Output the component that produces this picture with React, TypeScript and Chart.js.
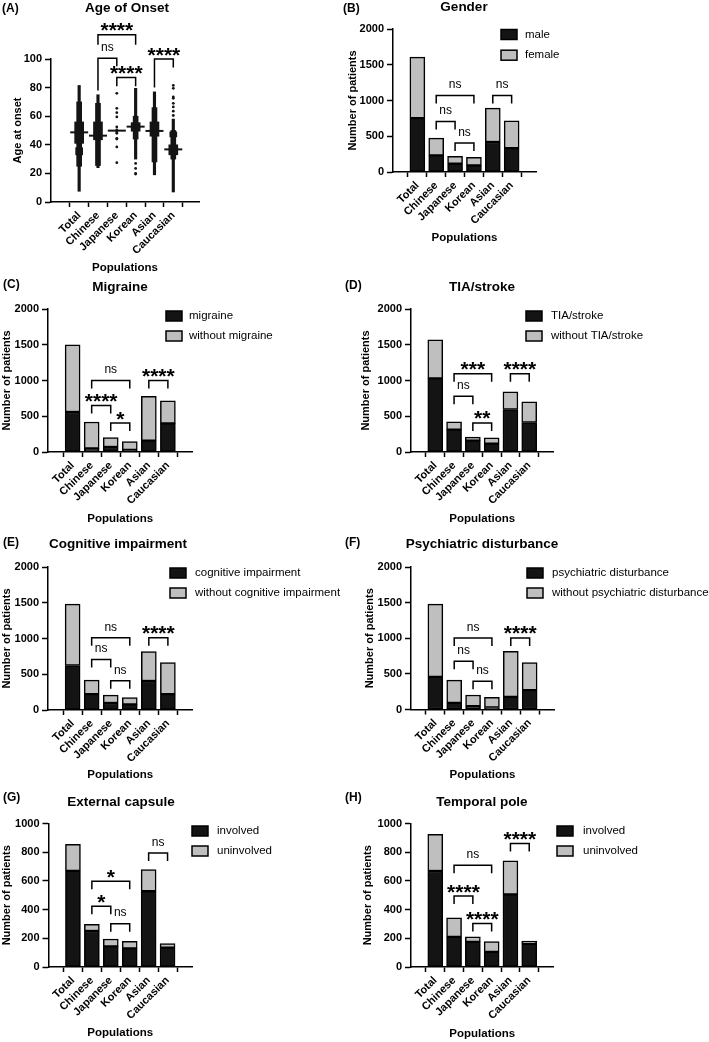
import React, { useEffect, useRef } from 'react';
import { Chart, registerables } from 'chart.js';

Chart.register(...registerables);

const FONT = '"Liberation Sans", Arial, sans-serif';
const BLACK = '#141414';
const GRAY = '#bfbfbf';

// ---------------- DATA ----------------
const CATEGORIES = ['Total', 'Chinese', 'Japanese', 'Korean', 'Asian', 'Caucasian'];

// (A) Age of onset: dot-plot columns (years)
const AGE_MEDIAN = [48.7, 46.4, 49.9, 52.7, 49.7, 36.8];
const AGE_RANGE_FULL = [[7.5, 81.5], [24, 75], null, [30, 79.5], [19, 77], [7, 58]];
const AGE_RANGE_MID = [[25, 70], [25.5, 69], null, [44, 60], [28, 66], [30, 50]];
const AGE_RANGE_DENSE = [[41, 56], [43.5, 56], null, [49.5, 55.5], [46, 56], [33, 40]];
const AGE_RANGE_DENSE2 = [[33, 38], null, null, null, null, [45.5, 49]];
const AGE_SPARSE_JAPANESE = [76, 65.5, 62.5, 59.5, 52.5, 50.5, 49, 48, 44.5, 44, 38.5, 27.5];
const AGE_SPARSE_KOREAN = [27, 23.5, 20, 19.5];
const AGE_SPARSE_CAUCASIAN = [81.5, 79.5, 73.5, 72.5, 69, 66.5, 63.5, 60.5];
const AGE_BRACKETS = [
  [1, 3, 117, '****', 110, 110],
  [1, 2, 100.5, 'ns', 78, 95],
  [2, 3, 87, '****', 81, 81],
  [4, 5, 100, '****', 80, 94],
];

// (B) Gender
const MALE = [753, 233, 116, 93, 419, 335];
const FEMALE = [854, 241, 103, 112, 474, 381];
const GENDER_BRACKETS = [[1, 3, 1070, 'ns'], [1, 2, 707, 'ns'], [2, 3, 405, 'ns'], [4, 5, 1070, 'ns']];

// (C) Migraine
const MIGRAINE = [560, 50, 70, 30, 160, 400];
const NO_MIGRAINE = [940, 370, 130, 115, 620, 315];
const MIGRAINE_BRACKETS = [[1, 3, 1000, 'ns'], [1, 2, 650, '****'], [2, 3, 405, '*'], [4, 5, 1000, '****']];

// (D) TIA/stroke
const STROKE = [1030, 314, 159, 117, 594, 412];
const NO_STROKE = [538, 107, 51, 80, 248, 290];
const STROKE_BRACKETS = [[1, 3, 1095, '***'], [1, 2, 781, 'ns'], [2, 3, 407, '**'], [4, 5, 1095, '****']];

// (E) Cognitive impairment
const COGNITIVE = [623, 223, 98, 79, 405, 223];
const NO_COGNITIVE = [857, 195, 109, 96, 412, 440];
const COGNITIVE_BRACKETS = [[1, 3, 1009, 'ns'], [1, 2, 707, 'ns'], [2, 3, 409, 'ns'], [4, 5, 1009, '****']];

// (F) Psychiatric disturbance
const PSYCH = [458, 93, 47, 28, 177, 271];
const NO_PSYCH = [1022, 320, 156, 142, 638, 389];
const PSYCH_BRACKETS = [[1, 3, 1004, 'ns'], [1, 2, 677, 'ns'], [2, 3, 397, 'ns'], [4, 5, 1004, '****']];

// (G) External capsule
const EC_INVOLVED = [670, 251, 144, 130, 528, 135];
const EC_UNINVOLVED = [185, 47, 51, 49, 151, 28];
const EC_BRACKETS = [[1, 3, 598, '*'], [1, 2, 423, '*'], [2, 3, 302, 'ns'], [4, 5, 795, 'ns']];

// (H) Temporal pole
const TP_INVOLVED = [669, 210, 175, 105, 506, 161];
const TP_UNINVOLVED = [256, 133, 35, 72, 233, 19];
const TP_BRACKETS = [[1, 3, 709, 'ns'], [1, 2, 494, '****'], [2, 3, 303, '****'], [4, 5, 860, '****']];

// ---------------- LAYOUT (page coordinates) ----------------
const Y_TITLE_SIZE = 11;
const X_TITLE_SIZE = 11.5;

type Panel = any;

const PANELS: Panel[] = [
  {
    key: 'A', kind: 'dot', label: '(A)', title: 'Age of Onset', yTitle: 'Age at onset',
    box: { x: 0, y: 0, w: 354, h: 285 }, plot: { l: 51, t: 59, r: 199, b: 202 },
    xMin: -0.84, xMax: 5.71, yMax: 100, yStep: 20,
    yTitleX: 18, xTitleY: 268, titlePos: [127, 8], labelPos: [2, 9],
    brackets: AGE_BRACKETS,
  },
  {
    key: 'B', kind: 'bar', label: '(B)', title: 'Gender', yTitle: 'Number of patients',
    box: { x: 340, y: 0, w: 369, h: 260 }, plot: { l: 393, t: 29, r: 536, b: 172 },
    xMin: -0.66, xMax: 5.66, yMax: 2000, yStep: 500,
    yTitleX: 353, xTitleY: 238, titlePos: [464, 7], labelPos: [343, 9],
    lower: MALE, upper: FEMALE, names: ['male', 'female'],
    legend: { bx: 501, tx: 525, y0: 34.5, dy: 20.7 }, brackets: GENDER_BRACKETS,
  },
  {
    key: 'C', kind: 'bar', label: '(C)', title: 'Migraine', yTitle: 'Number of patients',
    box: { x: 0, y: 260, w: 354, h: 270 }, plot: { l: 48, t: 309, r: 192.5, b: 452 },
    xMin: -0.66, xMax: 5.66, yMax: 2000, yStep: 500,
    yTitleX: 7, xTitleY: 519, titlePos: [120, 287], labelPos: [3, 285],
    lower: MIGRAINE, upper: NO_MIGRAINE, names: ['migraine', 'without migraine'],
    legend: { bx: 166, tx: 189, y0: 316, dy: 20 }, brackets: MIGRAINE_BRACKETS,
  },
  {
    key: 'D', kind: 'bar', label: '(D)', title: 'TIA/stroke', yTitle: 'Number of patients',
    box: { x: 340, y: 260, w: 369, h: 270 }, plot: { l: 411, t: 309, r: 553.5, b: 452 },
    xMin: -0.66, xMax: 5.66, yMax: 2000, yStep: 500,
    yTitleX: 366, xTitleY: 519, titlePos: [482, 287], labelPos: [345, 286],
    lower: STROKE, upper: NO_STROKE, names: ['TIA/stroke', 'without TIA/stroke'],
    legend: { bx: 526, tx: 551, y0: 316, dy: 20 }, brackets: STROKE_BRACKETS,
  },
  {
    key: 'E', kind: 'bar', label: '(E)', title: 'Cognitive impairment', yTitle: 'Number of patients',
    box: { x: 0, y: 520, w: 354, h: 262 }, plot: { l: 48, t: 567, r: 192.5, b: 710 },
    xMin: -0.66, xMax: 5.66, yMax: 2000, yStep: 500,
    yTitleX: 7, xTitleY: 775, titlePos: [118, 544], labelPos: [3, 543],
    lower: COGNITIVE, upper: NO_COGNITIVE, names: ['cognitive impairment', 'without cognitive impairment'],
    legend: { bx: 170, tx: 195, y0: 573, dy: 20 }, brackets: COGNITIVE_BRACKETS,
  },
  {
    key: 'F', kind: 'bar', label: '(F)', title: 'Psychiatric disturbance', yTitle: 'Number of patients',
    box: { x: 340, y: 520, w: 369, h: 262 }, plot: { l: 411, t: 567, r: 554, b: 709.5 },
    xMin: -0.66, xMax: 5.66, yMax: 2000, yStep: 500,
    yTitleX: 370, xTitleY: 775, titlePos: [482, 544], labelPos: [345, 543],
    lower: PSYCH, upper: NO_PSYCH, names: ['psychiatric disturbance', 'without psychiatric disturbance'],
    legend: { bx: 527, tx: 552, y0: 573, dy: 20 }, brackets: PSYCH_BRACKETS,
  },
  {
    key: 'G', kind: 'bar', label: '(G)', title: 'External capsule', yTitle: 'Number of patients',
    box: { x: 0, y: 780, w: 354, h: 262 }, plot: { l: 48.5, t: 823.5, r: 192, b: 967 },
    xMin: -0.66, xMax: 5.66, yMax: 1000, yStep: 200,
    yTitleX: 7, xTitleY: 1033, titlePos: [121, 802], labelPos: [3, 798],
    lower: EC_INVOLVED, upper: EC_UNINVOLVED, names: ['involved', 'uninvolved'],
    legend: { bx: 192, tx: 217, y0: 831, dy: 20 }, brackets: EC_BRACKETS,
  },
  {
    key: 'H', kind: 'bar', label: '(H)', title: 'Temporal pole', yTitle: 'Number of patients',
    box: { x: 340, y: 780, w: 369, h: 262 }, plot: { l: 411, t: 823.5, r: 553.5, b: 967 },
    xMin: -0.66, xMax: 5.66, yMax: 1000, yStep: 200,
    yTitleX: 368, xTitleY: 1034, titlePos: [482, 802], labelPos: [345, 798],
    lower: TP_INVOLVED, upper: TP_UNINVOLVED, names: ['involved', 'uninvolved'],
    legend: { bx: 557, tx: 583, y0: 831, dy: 20 }, brackets: TP_BRACKETS,
  },
];

// ---------------- CHART BUILDING ----------------
function decorPlugin(p: Panel) {
  return {
    id: 'decor' + p.key,
    afterDraw(chart: any) {
      const ctx = chart.ctx;
      const ox = p.box.x;
      const oy = p.box.y;
      ctx.save();
      ctx.fillStyle = '#000';
      ctx.strokeStyle = '#000';
      // panel label
      ctx.font = `bold 12px ${FONT}`;
      ctx.textAlign = 'left';
      ctx.textBaseline = 'middle';
      ctx.fillText(p.label, p.labelPos[0] - ox, p.labelPos[1] - oy);
      // title
      ctx.font = `bold 13.5px ${FONT}`;
      ctx.textAlign = 'center';
      ctx.fillText(p.title, p.titlePos[0] - ox, p.titlePos[1] - oy);
      // legend
      if (p.legend) {
        const ds = chart.data.datasets;
        ctx.font = `11.5px ${FONT}`;
        ctx.textAlign = 'left';
        ds.forEach((d: any, i: number) => {
          const cy = p.legend.y0 - oy + i * p.legend.dy;
          const bx = p.legend.bx - ox;
          ctx.fillStyle = d.backgroundColor;
          ctx.fillRect(bx, cy - 5, 16, 10);
          ctx.lineWidth = 1.5;
          ctx.strokeStyle = '#000';
          ctx.strokeRect(bx, cy - 5, 16, 10);
          ctx.fillStyle = '#000';
          ctx.fillText(d.label, p.legend.tx - ox, cy);
        });
      }
      // significance brackets
      const xs = chart.scales.x;
      const ys = chart.scales.y;
      ctx.lineWidth = 1.5;
      ctx.lineJoin = 'miter';
      ctx.lineCap = 'butt';
      for (const br of p.brackets) {
        const [a, b, level, text, legA, legB] = br;
        const x1 = xs.getPixelForValue(a);
        const x2 = xs.getPixelForValue(b);
        const y = ys.getPixelForValue(level);
        const y1 = legA != null ? ys.getPixelForValue(legA) : y + 8;
        const y2 = legB != null ? ys.getPixelForValue(legB) : y + 8;
        ctx.beginPath();
        ctx.moveTo(x1, y1);
        ctx.lineTo(x1, y);
        ctx.lineTo(x2, y);
        ctx.lineTo(x2, y2);
        ctx.stroke();
        const cx = (x1 + x2) / 2;
        ctx.textAlign = 'center';
        if (text === 'ns') {
          ctx.font = `12px ${FONT}`;
          ctx.textBaseline = 'middle';
          ctx.fillText(text, cx, y - 10.5);
        } else {
          ctx.font = `bold 21px ${FONT}`;
          ctx.textBaseline = 'alphabetic';
          ctx.fillText(text, cx, y - 9.5 + 12);
        }
      }
      ctx.restore();
    },
  };
}

function buildOptions(p: Panel) {
  const ox = p.box.x;
  const oy = p.box.y;
  const L = p.plot.l - ox;
  const T = p.plot.t - oy;
  const R = p.plot.r - ox;
  const B = p.plot.b - oy;
  const yTitleLeft = p.yTitleX - ox - (Y_TITLE_SIZE * 1.2) / 2;
  const yW = L - yTitleLeft;
  const xH = p.xTitleY - oy - B + (X_TITLE_SIZE * 1.2) / 2;
  const padding = { left: yTitleLeft, top: T, right: p.box.w - R, bottom: p.box.h - B - xH };
  const stacked = p.kind === 'bar';
  return {
    animation: false,
    responsive: false,
    devicePixelRatio: 1,
    events: [],
    layout: { padding },
    plugins: { legend: { display: false }, tooltip: { enabled: false }, title: { display: false } },
    scales: {
      x: {
        type: 'linear',
        min: p.xMin,
        max: p.xMax,
        bounds: 'data',
        stacked,
        afterBuildTicks: (s: any) => {
          s.ticks = CATEGORIES.map((_, i) => ({ value: i }));
        },
        afterFit: (s: any) => {
          s.height = xH;
        },
        ticks: {
          autoSkip: false,
          minRotation: 45,
          maxRotation: 45,
          padding: 2,
          color: '#000',
          font: { family: FONT, size: 11, weight: 'bold' },
          callback: (v: number) => CATEGORIES[v] ?? '',
        },
        grid: { display: true, drawOnChartArea: false, drawTicks: true, tickLength: 5, tickColor: '#000', tickWidth: 1.5 },
        border: { display: true, color: '#000', width: 1.5 },
        title: { display: true, text: 'Populations', color: '#000', padding: 0, font: { family: FONT, size: X_TITLE_SIZE, weight: 'bold' } },
      },
      y: {
        min: 0,
        max: p.yMax,
        stacked,
        afterFit: (s: any) => {
          s.width = yW;
        },
        ticks: {
          stepSize: p.yStep,
          padding: 3,
          color: '#000',
          font: { family: FONT, size: 11, weight: 'bold' },
          callback: (v: number) => String(v),
        },
        grid: { display: true, drawOnChartArea: false, drawTicks: true, tickLength: 6, tickColor: '#000', tickWidth: 1.5 },
        border: { display: true, color: '#000', width: 1.5 },
        title: { display: true, text: p.yTitle, color: '#000', padding: 0, font: { family: FONT, size: Y_TITLE_SIZE, weight: 'bold' } },
      },
    },
  };
}

function rangeDataset(label: string, ranges: any[], px: number) {
  return {
    type: 'bar',
    label,
    data: ranges.map((r, i) => (r ? { x: i, y: r } : null)).filter(Boolean),
    backgroundColor: BLACK,
    borderWidth: 0,
    grouped: false,
    barPercentage: 1,
    categoryPercentage: 1,
    maxBarThickness: px,
  };
}

function buildConfig(p: Panel): any {
  if (p.kind === 'dot') {
    const sparse = [
      ...AGE_SPARSE_JAPANESE.map((v) => ({ x: 2, y: v })),
      ...AGE_SPARSE_KOREAN.map((v) => ({ x: 3, y: v })),
      ...AGE_SPARSE_CAUCASIAN.map((v) => ({ x: 5, y: v })),
    ];
    return {
      type: 'bar',
      data: {
        datasets: [
          {
            type: 'scatter', label: 'median', data: AGE_MEDIAN.map((v, i) => ({ x: i, y: v })),
            pointStyle: 'line', pointRadius: 9, pointBorderColor: BLACK, pointBorderWidth: 2, pointBackgroundColor: BLACK,
          },
          {
            type: 'scatter', label: 'sparse', data: sparse,
            pointStyle: 'circle', pointRadius: 1.4, pointBorderWidth: 0, pointBackgroundColor: BLACK,
          },
          rangeDataset('dense2', AGE_RANGE_DENSE2, 7),
          rangeDataset('dense', AGE_RANGE_DENSE, 9),
          rangeDataset('mid', AGE_RANGE_MID, 5),
          rangeDataset('full', AGE_RANGE_FULL, 2.5),
        ],
      },
      options: buildOptions(p),
      plugins: [decorPlugin(p)],
    };
  }
  const ds = (label: string, values: number[], color: string) => ({
    label,
    data: values.map((v, i) => ({ x: i, y: v })),
    backgroundColor: color,
    borderColor: '#000',
    borderWidth: 1.5,
    borderSkipped: false,
    barThickness: 15,
  });
  return {
    type: 'bar',
    data: { datasets: [ds(p.names[0], p.lower, BLACK), ds(p.names[1], p.upper, GRAY)] },
    options: buildOptions(p),
    plugins: [decorPlugin(p)],
  };
}

function PanelChart({ p }: { p: Panel }) {
  const ref = useRef<HTMLCanvasElement>(null);
  useEffect(() => {
    if (!ref.current) return;
    const chart = new Chart(ref.current, buildConfig(p));
    return () => chart.destroy();
  }, [p]);
  return (
    <canvas
      ref={ref}
      width={p.box.w}
      height={p.box.h}
      style={{ position: 'absolute', left: p.box.x, top: p.box.y, width: p.box.w, height: p.box.h }}
    />
  );
}

export default function App() {
  return (
    <div style={{ position: 'absolute', left: 0, top: 0, width: 709, height: 1042, background: '#fff' }}>
      {PANELS.map((p) => (
        <PanelChart key={p.key} p={p} />
      ))}
    </div>
  );
}
